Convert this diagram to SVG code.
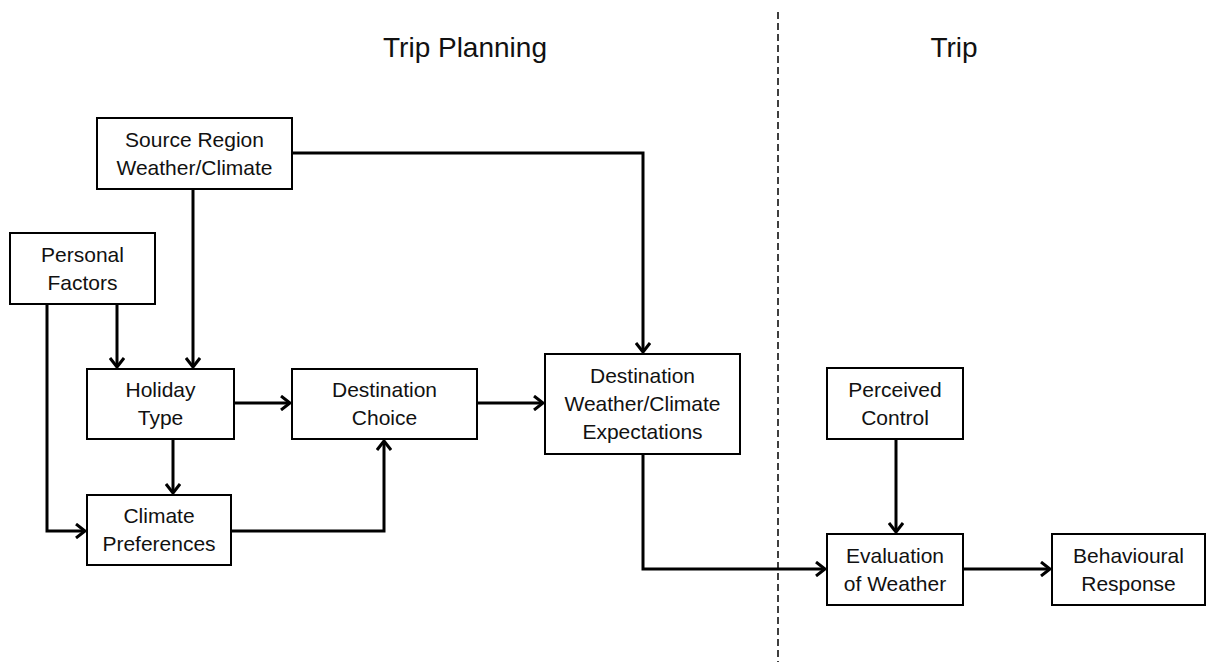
<svg xmlns="http://www.w3.org/2000/svg" width="1207" height="662" viewBox="0 0 1207 662">
<defs>
<style>
.box{fill:#fff;stroke:#000;stroke-width:2}
.t{font-family:"Liberation Sans",Arial,sans-serif;font-size:21px;fill:#111;text-anchor:middle}
.title{font-family:"Liberation Sans",Arial,sans-serif;font-size:28px;fill:#111;text-anchor:middle}
.c{fill:none;stroke:#000;stroke-width:3}
.dash{fill:none;stroke:#000;stroke-width:1.5;stroke-dasharray:7,4}
</style>
<marker id="ah" viewBox="0 0 16 16" refX="12" refY="8" markerWidth="16" markerHeight="16" markerUnits="userSpaceOnUse" orient="auto">
<path d="M3,1 L12,8 L3,15" fill="none" stroke="#000" stroke-width="3"/>
</marker>
</defs>
<rect width="1207" height="662" fill="#fff"/>
<line class="dash" x1="778" y1="12" x2="778" y2="662"/>
<text class="title" x="465" y="57">Trip Planning</text>
<text class="title" x="954" y="57">Trip</text>
<g id="connectors">
<path class="c" d="M193,189 V367" marker-end="url(#ah)"/>
<path class="c" d="M292,153 H643 V352" marker-end="url(#ah)"/>
<path class="c" d="M117,304 V367" marker-end="url(#ah)"/>
<path class="c" d="M47,304 V531 H85" marker-end="url(#ah)"/>
<path class="c" d="M234,403 H290" marker-end="url(#ah)"/>
<path class="c" d="M173,439 V493" marker-end="url(#ah)"/>
<path class="c" d="M231,531 H384 V441" marker-end="url(#ah)"/>
<path class="c" d="M477,403 H543" marker-end="url(#ah)"/>
<path class="c" d="M643,454 V569 H825" marker-end="url(#ah)"/>
<path class="c" d="M896,439 V532" marker-end="url(#ah)"/>
<path class="c" d="M963,569 H1050" marker-end="url(#ah)"/>
</g>
<g id="source-region">
<rect class="box" x="97" y="118" width="195" height="71"/>
<text class="t" x="194.5" y="146.5">Source Region</text>
<text class="t" x="194.5" y="174.5">Weather/Climate</text>
</g>
<g id="personal-factors">
<rect class="box" x="10" y="233" width="145" height="71"/>
<text class="t" x="82.5" y="262">Personal</text>
<text class="t" x="82.5" y="290">Factors</text>
</g>
<g id="holiday-type">
<rect class="box" x="87" y="369" width="147" height="70"/>
<text class="t" x="160.5" y="397">Holiday</text>
<text class="t" x="160.5" y="425">Type</text>
</g>
<g id="destination-choice">
<rect class="box" x="292" y="369" width="185" height="70"/>
<text class="t" x="384.5" y="397">Destination</text>
<text class="t" x="384.5" y="425">Choice</text>
</g>
<g id="climate-preferences">
<rect class="box" x="87" y="495" width="144" height="70"/>
<text class="t" x="159" y="523">Climate</text>
<text class="t" x="159" y="551">Preferences</text>
</g>
<g id="destination-weather">
<rect class="box" x="545" y="354" width="195" height="100"/>
<text class="t" x="642.5" y="383">Destination</text>
<text class="t" x="642.5" y="411">Weather/Climate</text>
<text class="t" x="642.5" y="439">Expectations</text>
</g>
<g id="perceived-control">
<rect class="box" x="827" y="368" width="136" height="71"/>
<text class="t" x="895" y="396.5">Perceived</text>
<text class="t" x="895" y="424.5">Control</text>
</g>
<g id="evaluation">
<rect class="box" x="827" y="534" width="136" height="71"/>
<text class="t" x="895" y="562.5">Evaluation</text>
<text class="t" x="895" y="590.5">of Weather</text>
</g>
<g id="behavioural-response">
<rect class="box" x="1052" y="534" width="153" height="71"/>
<text class="t" x="1128.5" y="562.5">Behavioural</text>
<text class="t" x="1128.5" y="590.5">Response</text>
</g>
</svg>
